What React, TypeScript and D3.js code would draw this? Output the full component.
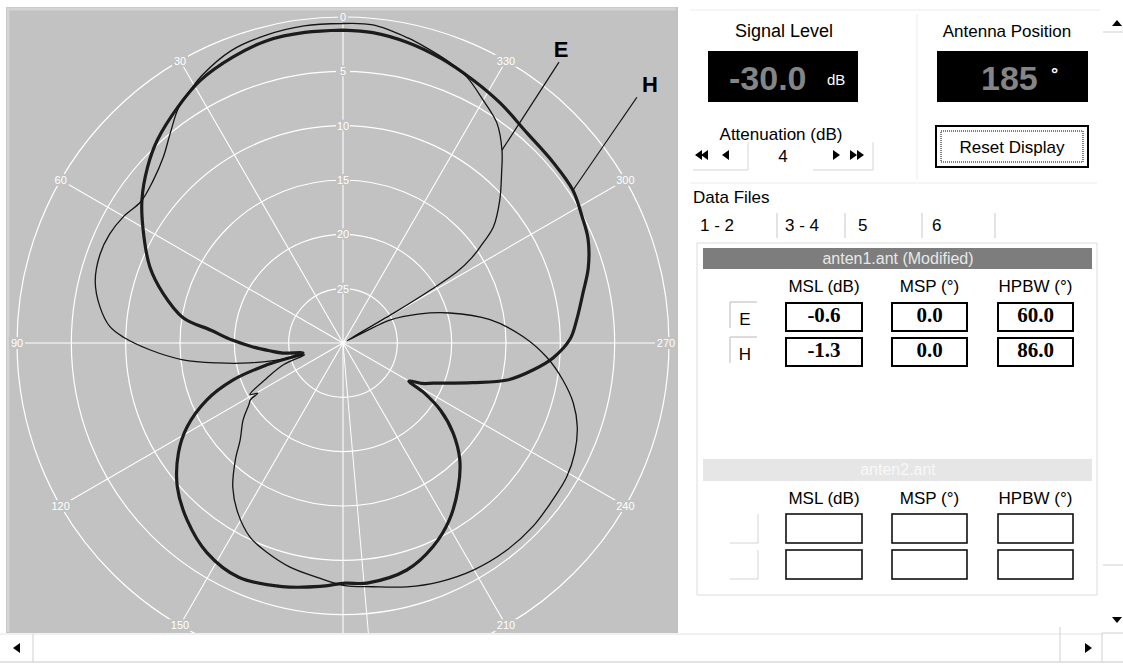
import * as d3 from "d3";

// E-plane pattern: angle in degrees (counter-clockwise from 0 at top), level in dB
const eAngle = [
  0, 7, 14, 21, 28, 31, 35, 39.5, 44, 49.4, 55, 60, 65, 70, 76, 81.6, 86, 88.5, 92, 96,
  99, 102, 105, 107, 110, 114.7, 119, 120.5, 121.5, 123, 127.6, 133.3, 137.3, 142.6, 148.3,
  154.4, 160, 166.7, 173.7, 180, 187, 194.7, 202, 210, 218, 226, 233, 239, 244.6, 250.3,
  255.4, 260.5, 266, 272, 279, 285.7, 291, 296, 299, 300.5, 301.2, 302, 303.5, 305, 307.7,
  312.3, 317, 320.5, 325, 330, 335, 339, 344, 348, 354.6, 360,
];
const eLevel = [
  -0.6, -0.6, -0.8, -1.2, -2.2, -2.8, -3.6, -5.0, -6.2, -7.0, -7.3, -6.7, -6.3, -6.2, -6.5,
  -7.4, -8.5, -9.8, -12.2, -15.2, -18.3, -21.2, -24.3, -26.3, -24.2, -22.3, -20.2, -20.9,
  -20.0, -19.7, -18.4, -17.0, -15.4, -13.3, -11.6, -10.2, -9.5, -8.8, -8.3, -7.7, -7.4, -6.8,
  -6.3, -5.9, -5.7, -5.7, -5.9, -6.0, -6.4, -7.1, -8.1, -9.5, -11.2, -13.4, -16.3, -19.8,
  -22.6, -25.2, -29.6, -24.5, -20.5, -17.6, -15.8, -14.6, -12.5, -10.5, -8.6, -7.0, -5.3,
  -4.2, -3.0, -2.4, -1.8, -1.3, -0.6, -0.6,
];

// H-plane pattern
const hAngle = [
  0, 7, 14, 21, 28.5, 35, 42.5, 48, 54.6, 61, 68.5, 74.5, 81, 84.5, 88.5, 92.5, 96, 99.5,
  104, 106, 108.6, 112.7, 118.3, 123.7, 131, 138.6, 147, 156, 166, 174.6, 180.5, 185.7,
  195.7, 203.8, 211, 218.6, 225, 230.7, 235.4, 238.5, 240, 243, 246, 253, 257.3, 262, 266,
  271, 275.6, 282, 287, 293, 298, 303.6, 310.6, 318.8, 326.8, 333.7, 341, 348, 354.5, 360,
];
const hLevel = [
  -1.2, -1.2, -1.3, -1.8, -2.5, -3.5, -4.7, -5.8, -7.3, -9.0, -10.9, -12.8, -15.1, -17.8,
  -19.8, -21.7, -23.2, -24.4, -26.2, -22.7, -19.3, -16.4, -13.7, -11.8, -9.8, -8.3, -7.0,
  -6.4, -6.9, -7.5, -7.9, -7.8, -8.3, -9.5, -11.0, -13.0, -14.8, -16.9, -19.1, -21.3, -23.0,
  -21.8, -20.9, -17.5, -14.5, -12.3, -10.6, -9.1, -8.4, -7.4, -6.4, -5.5, -5.1, -4.6, -4.5,
  -4.3, -3.6, -3.0, -2.3, -1.7, -1.3, -1.2,
];

const angleTicks = [0, 30, 60, 90, 120, 150, 180, 210, 240, 270, 300, 330];
const ringTicks = [-25, -20, -15, -10, -5, 0];
const ringLabels = ["25", "20", "15", "10", "5", ""];
const cursorAngle = 185;

// right-hand panel values
const signalLevel = "-30.0";
const attenuation = "4";
const antennaPosition = "185";
const tabs = ["1 - 2", "3 - 4", "5", "6"];
const tabX = [700, 785, 858, 932];
const tabSep = [777, 845, 922, 995];
const columns = ["MSL (dB)", "MSP (°)", "HPBW (°)"];
const rowNames = ["E", "H"];
const file1 = [
  ["-0.6", "0.0", "60.0"],
  ["-1.3", "0.0", "86.0"],
];

const cx = 343;
const cy = 343;
const R = 326;
const panelBottom = 633;
const ui = "'Liberation Sans', Arial, sans-serif";

function PolarPlot() {
  const r = d3.scaleLinear().domain([-30, 0]).range([0, R]).clamp(true);
  const ang = (a: number) => (-a * Math.PI) / 180;
  const pt = (a: number, db: number) => {
    const rr = r(db);
    return [cx + rr * Math.sin(ang(a)), cy - rr * Math.cos(ang(a))];
  };
  const pattern = (angles: number[], levels: number[]) =>
    d3
      .lineRadial<number>()
      .angle((i) => ang(angles[i]))
      .radius((i) => r(levels[i]))
      .curve(d3.curveCatmullRom.alpha(0.5))(d3.range(angles.length)) || "";

  const eAt = d3.scaleLinear().domain(eAngle).range(eLevel);
  const hAt = d3.scaleLinear().domain(hAngle).range(hLevel);
  const eAnchor = pt(320.5, eAt(320.5));
  const hAnchor = pt(303.6, hAt(303.6));

  // angle labels that fall below the panel are hidden, as in the app
  const visibleTicks = angleTicks.filter((a) => pt(a, 0)[1] + 6 < panelBottom);

  return (
    <g>
      <defs>
        <clipPath id="panel">
          <rect x={6} y={7} width={672} height={panelBottom - 7} />
        </clipPath>
      </defs>
      <rect x={6} y={7} width={672} height={panelBottom - 7} fill="#c2c2c2" />
      <path d="M8,632 V9 H676" fill="none" stroke="#d4d4d4" strokeWidth={3} />
      <g clipPath="url(#panel)">
        {ringTicks.map((t) => (
          <circle key={t} cx={cx} cy={cy} r={r(t)} fill="none" stroke="#fff" strokeWidth={1.2} />
        ))}
        {angleTicks.map((a) => {
          const [x, y] = pt(a, 0);
          return <line key={a} x1={cx} y1={cy} x2={x} y2={y} stroke="#fff" strokeWidth={1.1} />;
        })}
        {(() => {
          const [x, y] = pt(cursorAngle, 0);
          return <line x1={cx} y1={cy} x2={x} y2={y} stroke="#fff" strokeWidth={1} />;
        })()}
        {ringTicks.map((t, i) =>
          ringLabels[i] ? (
            <g key={"rl" + t}>
              <rect x={cx - 7} y={cy - r(t) - 6} width={14} height={11} fill="#c2c2c2" />
              <text
                x={cx}
                y={cy - r(t) + 4}
                textAnchor="middle"
                fontFamily={ui}
                fontSize={11}
                fill="#fff"
              >
                {ringLabels[i]}
              </text>
            </g>
          ) : null,
        )}
        {visibleTicks.map((a) => {
          const [x0, y] = pt(a, 0);
          const x = Math.min(Math.max(x0, 16), 666);
          const w = String(a).length * 6 + 4;
          return (
            <g key={"al" + a}>
              <rect x={x - w / 2} y={y - 6} width={w} height={12} fill="#c2c2c2" />
              <text x={x} y={y + 4} textAnchor="middle" fontFamily={ui} fontSize={11} fill="#fff">
                {a}
              </text>
            </g>
          );
        })}
        <g transform={`translate(${cx},${cy})`}>
          <path d={pattern(hAngle, hLevel)} fill="none" stroke="#1c1c1c" strokeWidth={3.2} strokeLinejoin="round" />
          <path d={pattern(eAngle, eLevel)} fill="none" stroke="#141414" strokeWidth={1.3} strokeLinejoin="round" />
        </g>
        <line x1={eAnchor[0] + 57} y1={eAnchor[1] - 88} x2={eAnchor[0]} y2={eAnchor[1]} stroke="#111" strokeWidth={1.2} />
        <line x1={hAnchor[0] + 64} y1={hAnchor[1] - 93} x2={hAnchor[0]} y2={hAnchor[1]} stroke="#111" strokeWidth={1.2} />
        <text x={eAnchor[0] + 59} y={eAnchor[1] - 93} textAnchor="middle" fontFamily={ui} fontWeight="bold" fontSize={22} fill="#000">
          E
        </text>
        <text x={hAnchor[0] + 77} y={hAnchor[1] - 98} textAnchor="middle" fontFamily={ui} fontWeight="bold" fontSize={22} fill="#000">
          H
        </text>
      </g>
    </g>
  );
}

function Tri({ x, y, dir }: { x: number; y: number; dir: 1 | -1 }) {
  const p = dir > 0 ? `${x},${y - 5} ${x + 7},${y} ${x},${y + 5}` : `${x + 7},${y - 5} ${x},${y} ${x + 7},${y + 5}`;
  return <polygon points={p} fill="#000" />;
}

function SidePanel() {
  const colX = [786, 892, 998];
  const colW = [76, 75, 75];
  const row1Y = [303, 338];
  const row2Y = [514, 550];
  return (
    <g fontFamily={ui} fill="#000">
      {/* group frames */}
      <line x1={690} y1={10} x2={1100} y2={10} stroke="#ececec" />
      <line x1={917} y1={14} x2={917} y2={180} stroke="#ececec" />
      <line x1={690} y1={183} x2={1097} y2={183} stroke="#ececec" />

      <text x={784} y={37} textAnchor="middle" fontSize={18}>Signal Level</text>
      <rect x={708} y={51} width={150} height={51} fill="#000" />
      <text x={729} y={90} fontSize={34} fontWeight="bold" fill="#858585">{signalLevel}</text>
      <text x={827} y={85} fontSize={15} fill="#fff">dB</text>

      <text x={781} y={140} textAnchor="middle" fontSize={17}>Attenuation (dB)</text>
      <Tri x={695} y={155} dir={-1} />
      <Tri x={701} y={155} dir={-1} />
      <Tri x={722} y={155} dir={-1} />
      <Tri x={833} y={155} dir={1} />
      <Tri x={850} y={155} dir={1} />
      <Tri x={857} y={155} dir={1} />
      <path d="M693,170 H748 V142" fill="none" stroke="#d6d6d6" />
      <path d="M813,170 H873 V142" fill="none" stroke="#d6d6d6" />
      <text x={783} y={162} textAnchor="middle" fontSize={17}>{attenuation}</text>

      <text x={1007} y={37} textAnchor="middle" fontSize={17}>Antenna Position</text>
      <rect x={937} y={51} width={151} height={51} fill="#000" />
      <text x={981} y={90} fontSize={34} fontWeight="bold" fill="#858585">{antennaPosition}</text>
      <text x={1051} y={80} fontSize={18} fontWeight="bold" fill="#fff">°</text>

      <rect x={936} y={126} width={152} height={41} fill="#fff" stroke="#000" strokeWidth={2} />
      <rect x={941} y={131} width={142} height={31} fill="none" stroke="#000" strokeDasharray="1,1" />
      <text x={1012} y={153} textAnchor="middle" fontSize={17}>Reset Display</text>

      <text x={693} y={203} fontSize={17}>Data Files</text>
      {tabs.map((t, i) => (
        <text key={t} x={tabX[i]} y={231} fontSize={17}>{t}</text>
      ))}
      {tabSep.map((x) => (
        <line key={x} x1={x} y1={213} x2={x} y2={238} stroke="#c8c8c8" />
      ))}
      <path d="M697,595 V243 H1097 V595 H697" fill="none" stroke="#dcdcdc" />

      <rect x={703} y={248} width={389} height={21} fill="#7d7d7d" />
      <text x={898} y={264} textAnchor="middle" fontSize={16} fill="#e8e8e8">anten1.ant (Modified)</text>
      {columns.map((c, i) => (
        <text key={"c1" + c} x={colX[i] + colW[i] / 2} y={292} textAnchor="middle" fontSize={17}>{c}</text>
      ))}
      {rowNames.map((n, j) => (
        <g key={n}>
          <path d={`M730,${row1Y[j] + 25} V${row1Y[j] - 1} H757`} fill="none" stroke="#b8b8b8" />
          <text x={745} y={row1Y[j] + 22} textAnchor="middle" fontSize={17}>{n}</text>
          {file1[j].map((v, i) => (
            <g key={i}>
              <rect x={colX[i]} y={row1Y[j]} width={colW[i]} height={28} fill="#fff" stroke="#000" strokeWidth={2} />
              <text
                x={colX[i] + colW[i] / 2}
                y={row1Y[j] + 19}
                textAnchor="middle"
                fontFamily="'Liberation Serif', 'Times New Roman', serif"
                fontWeight="bold"
                fontSize={21}
              >
                {v}
              </text>
            </g>
          ))}
        </g>
      ))}

      <rect x={703} y={459} width={389} height={22} fill="#e6e6e6" />
      <text x={898} y={475} textAnchor="middle" fontSize={16} fill="#f8f8f8">anten2.ant</text>
      {columns.map((c, i) => (
        <text key={"c2" + c} x={colX[i] + colW[i] / 2} y={504} textAnchor="middle" fontSize={17}>{c}</text>
      ))}
      {row2Y.map((y) => (
        <g key={y}>
          <path d={`M730,${y + 29} H758 V${y}`} fill="none" stroke="#d4d4d4" />
          {colX.map((x, i) => (
            <rect key={x} x={x} y={y} width={colW[i]} height={29} fill="#fff" stroke="#111" strokeWidth={1.6} />
          ))}
        </g>
      ))}

      {/* scroll bars */}
      <polygon points="1112,26 1117,20 1122,26" fill="#000" />
      <line x1={1103} y1={32} x2={1123} y2={32} stroke="#cfcfcf" />
      <line x1={1103} y1={565} x2={1123} y2={565} stroke="#cfcfcf" />
      <polygon points="1112,617 1122,617 1117,623" fill="#000" />
      <line x1={0} y1={634} x2={1102} y2={634} stroke="#e2e2e2" />
      <line x1={0} y1={662} x2={1123} y2={662} stroke="#c8c8c8" />
      <line x1={33} y1={634} x2={33} y2={662} stroke="#d0d0d0" />
      <polygon points="20,643 13,648 20,653" fill="#000" />
      <line x1={1060} y1={627} x2={1060} y2={662} stroke="#d0d0d0" />
      <polygon points="1085,643 1092,648 1085,653" fill="#000" />
      <path d="M1102,662 V633 H1123" fill="none" stroke="#cfcfcf" />
    </g>
  );
}

export default function App() {
  return (
    <svg
      width={1123}
      height={664}
      viewBox="0 0 1123 664"
      style={{ position: "absolute", left: 0, top: 0, display: "block" }}
    >
      <rect width={1123} height={664} fill="#fff" />
      <PolarPlot />
      <SidePanel />
    </svg>
  );
}
